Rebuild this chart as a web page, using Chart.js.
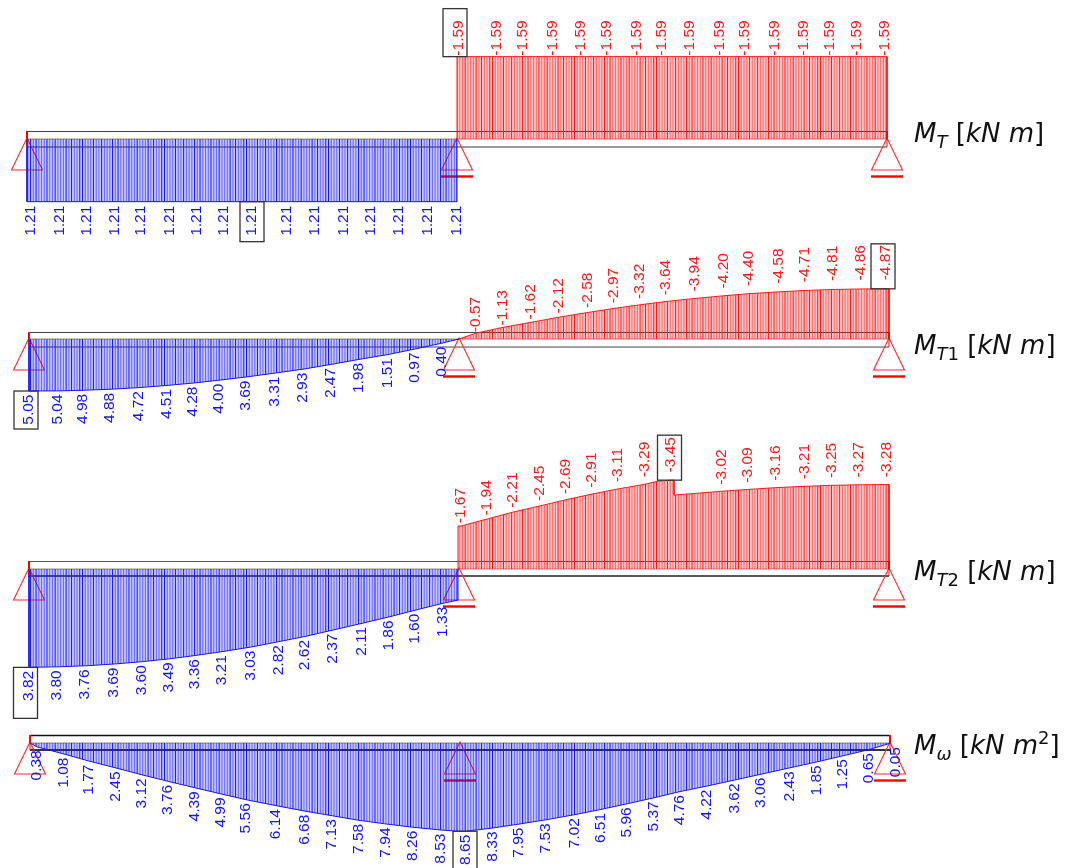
<!DOCTYPE html>
<html>
<head>
<meta charset="utf-8">
<script src="https://cdn.jsdelivr.net/npm/chart.js@4"></script>
<style>
html,body{margin:0;padding:0;background:#fff;width:1068px;height:868px;overflow:hidden}
canvas{position:absolute;left:0}
.t{position:absolute;left:914px;font:italic 26px "DejaVu Sans";color:#111;white-space:nowrap;line-height:30px}
.t span{font-style:normal}
.t sub{font-size:18px;line-height:0;vertical-align:-6px}
.t sup{font-size:18px;line-height:0;vertical-align:10px;font-style:normal}
</style>
</head>
<body>
<div id="stage"></div>
<script>
// Stations are positions along the beam (two spans of 430 units each).
const mtLeftAt   = [4,33,60,88,114,143,170,197,225,260,288,317,344,372,401,430];
const mtLeft     = [1.21,1.21,1.21,1.21,1.21,1.21,1.21,1.21,1.21,1.21,1.21,1.21,1.21,1.21,1.21,1.21];
const mtRightAt  = [432,470,496,526,554,580,610,635,663,693,718,748,777,803,830,858];
const mtRight    = [-1.59,-1.59,-1.59,-1.59,-1.59,-1.59,-1.59,-1.59,-1.59,-1.59,-1.59,-1.59,-1.59,-1.59,-1.59,-1.59];

const mt1LeftAt  = [0,29,54,81,110,138,164,190,217,246,274,302,330,359,386,413];
const mt1Left    = [5.05,5.04,4.98,4.88,4.72,4.51,4.28,4.00,3.69,3.31,2.93,2.47,1.98,1.51,0.97,0.40];
const mt1RightAt = [447,474,502,530,559,585,611,637,666,695,720,750,776,804,832,857];
const mt1Right   = [-0.57,-1.13,-1.62,-2.12,-2.58,-2.97,-3.32,-3.64,-3.94,-4.20,-4.40,-4.58,-4.71,-4.81,-4.86,-4.87];

const mt2LeftAt  = [0,28,56,85,113,140,166,193,222,250,276,304,333,360,386,414];
const mt2Left    = [3.82,3.80,3.76,3.69,3.60,3.49,3.36,3.21,3.03,2.82,2.62,2.37,2.11,1.86,1.60,1.33];
const mt2RightAt = [432,458,484,511,537,563,589,616,642,693,719,747,776,803,830,858];
const mt2Right   = [-1.67,-1.94,-2.21,-2.45,-2.69,-2.91,-3.11,-3.29,-3.45,-3.02,-3.09,-3.16,-3.21,-3.25,-3.27,-3.28];

const mwLeftAt   = [7,34,59,86,112,138,165,191,216,246,275,302,329,356,383,411,436];
const mwLeft     = [0.38,1.08,1.77,2.45,3.12,3.76,4.39,4.99,5.56,6.14,6.68,7.13,7.58,7.94,8.26,8.53,8.65];
const mwRightAt  = [463,489,516,545,571,597,624,650,677,705,731,760,787,813,839,866];
const mwRight    = [8.33,7.95,7.53,7.02,6.51,5.96,5.37,4.76,4.22,3.62,3.06,2.43,1.85,1.25,0.65,0.05];

// Estimated unlabelled break points of the diagrams: [station, value]
const mtLeftExtra   = [[0,0],[0,1.21],[430,0]];
const mtRightExtra  = [[430,0],[430,-1.59],[860,-1.59],[860,0]];
const mt1LeftExtra  = [[0,0],[430,0]];
const mt1RightExtra = [[430,0],[860,-4.87],[860,0]];
const mt2LeftExtra  = [[0,0],[429,1.21],[429,0]];
const mt2RightExtra = [[429,0],[429,-1.67],[629,-3.41],[645,-3.45],[645,-2.87],[860,-3.28],[860,0]];
const mwLeftExtra   = [[0,0],[428,8.65]];
const mwRightExtra  = [[436,8.65],[861,0]];

const supportsAt = [0,430,860];

// Layout of each panel (page geometry, not data)
const panels = [
 {top:0,  h:245,x0:27,base:139,k:51.8,beamTop:131,beamBot:147,botCol:'#9a9a9a',botW:2,topCol:'#444',topW:1.2,
  left:[mtLeftAt,mtLeft,mtLeftExtra],right:[mtRightAt,mtRight,mtRightExtra],
  gapB:4,gapR:1,facR:1,boxL:[8,40,0],boxR:[0,48,-4]},
 {top:240,h:195,x0:29,base:339,k:10.3,beamTop:332,beamBot:347,botCol:'#444',botW:1.2,topCol:'#444',topW:1.2,
  left:[mt1LeftAt,mt1Left,mt1LeftExtra],right:[mt1RightAt,mt1Right,mt1RightExtra],
  gapB:3.5,gapR:0,facR:1.17,boxL:[0,38,-3],boxR:[15,45,-3]},
 {top:430,h:292,x0:29,base:569,k:25.75,beamTop:561,beamBot:576,botCol:'#222',botW:1.5,topCol:'#555',topW:1.2,
  left:[mt2LeftAt,mt2Left,mt2LeftExtra],right:[mt2RightAt,mt2Right,mt2RightExtra],
  gapB:3.5,gapR:-2,facR:1.11,boxL:[0,51,-3.5],boxR:[8,45,-1.5]},
 {top:722,h:146,x0:30,base:743,k:10.2,beamTop:735,beamBot:750,botCol:'#333',botW:2,topCol:'#111',topW:1.6,
  left:[mwLeftAt,mwLeft,mwLeftExtra],right:[mwRightAt,mwRight,mwRightExtra],
  gapB:3.5,gapR:0,facR:1,boxL:[16,40,-1],boxR:null}
];

const strong = [0,4,7,11,13,17,20,24,26,29];
function hatch(rgb){
  const tile=document.createElement('canvas');tile.width=82;tile.height=2;
  const c=tile.getContext('2d');
  c.fillStyle='rgba('+rgb+',0.24)';c.fillRect(0,0,82,2);
  for(let i=0;i<30;i++){
    const x=i*82/30;
    c.fillStyle='rgba('+rgb+','+(strong.includes(i)?1:0.5)+')';
    c.fillRect(x,0,strong.includes(i)?1:1.1,2);
  }
  return c.createPattern(tile,'repeat');
}
// Merge labelled stations with break points. At the first station of a diagram the
// line rises from the axis; at every other repeated station it falls back towards it.
const curve=(at,val,extra,end)=>{
  const pts=at.map((x,i)=>({x,y:val[i]})).filter(p=>p.x<=end).concat(extra.map(p=>({x:p[0],y:p[1]})));
  const first=Math.min(...pts.map(p=>p.x));
  return pts.sort((a,b)=>a.x-b.x||(a.x===first?Math.abs(a.y)-Math.abs(b.y):Math.abs(b.y)-Math.abs(a.y)));
};
const RED='#ff1a1a',BLUE='#1414ff';

const overlay={
 id:'beamOverlay',
 beforeDatasetsDraw(ch,_,o){
  const p=o.p,c=ch.ctx,X=ch.scales.x,Y0=ch.scales.y.getPixelForValue(0),top=p.beamTop-p.top,bot=p.beamBot-p.top;
  const xs=X.getPixelForValue(0),xe=X.getPixelForValue(860);
  c.save();
  c.lineWidth=p.topW;c.strokeStyle=p.topCol;
  c.beginPath();c.moveTo(xs,top+.5);c.lineTo(xe,top+.5);c.stroke();
  c.lineWidth=p.botW;c.strokeStyle=p.botCol;
  c.beginPath();c.moveTo(xs,bot);c.lineTo(xe,bot);c.stroke();
  c.lineWidth=1.6;c.strokeStyle='#bdb0b0';
  c.beginPath();c.moveTo(xs,Y0);c.lineTo(xe,Y0);c.stroke();
  // supports
  supportsAt.forEach((s,i)=>{
    const x=X.getPixelForValue(s);
    c.strokeStyle='#ff2a2a';c.lineWidth=1.1;
    c.beginPath();c.moveTo(x,Y0-1);c.lineTo(x-15.5,Y0+31);c.lineTo(x+15.5,Y0+31);c.closePath();c.stroke();
    if(i>0){c.strokeStyle='#f00';c.lineWidth=2.4;c.beginPath();c.moveTo(x-16,Y0+37.5);c.lineTo(x+16,Y0+37.5);c.stroke();}
  });
  c.restore();
 },
 afterDatasetsDraw(ch,_,o){
  const p=o.p,c=ch.ctx,X=ch.scales.x,Y=ch.scales.y,Y0=Y.getPixelForValue(0),top=p.beamTop-p.top,bot=p.beamBot-p.top;
  c.save();
  // end ticks
  [0,860].forEach((s,i)=>{
    const x=X.getPixelForValue(s);
    c.strokeStyle='#f00';
    c.lineWidth=2;c.beginPath();c.moveTo(x,top);c.lineTo(x,Y0);c.stroke();
    c.lineWidth=1;c.beginPath();c.moveTo(x,Y0);c.lineTo(x,bot);c.stroke();
  });
  // value labels
  c.font='15.5px "Liberation Sans"';c.textBaseline='middle';
  const draw=(at,val)=>{
    at.forEach((s,i)=>{
      const v=val[i],neg=v<0,x=X.getPixelForValue(s);
      const y=neg?Y.getPixelForValue(v*p.facR)-p.gapR:Y.getPixelForValue(v)+p.gapB;
      c.save();c.translate(x,y);c.rotate(-Math.PI/2);
      c.fillStyle=neg?RED:BLUE;c.textAlign=neg?'left':'right';
      c.fillText(v.toFixed(2),0,0);c.restore();
    });
  };
  draw(p.left[0],p.left[1]);draw(p.right[0],p.right[1]);
  // boxes round the extreme values
  const box=(arr,spec)=>{
    if(!spec)return;
    const i=spec[0],L=spec[1],v=arr[1][i],x=X.getPixelForValue(arr[0][i])+spec[2],y=Y.getPixelForValue(v);
    c.strokeStyle='#333';c.lineWidth=1.3;
    c.strokeRect(x-12,v<0?y-L:y,24,L);
  };
  box(p.left,p.boxL);box(p.right,p.boxR);
  c.restore();
 }
};

const stage=document.getElementById('stage');
const blueFill=hatch('20,20,255'),redFill=hatch('255,20,20');
panels.forEach((p,n)=>{
  const cv=document.createElement('canvas');
  cv.style.top=p.top+'px';cv.width=1068;cv.height=p.h;cv.style.width='1068px';cv.style.height=p.h+'px';
  stage.appendChild(cv);
  const b=p.base-p.top;
  const ds=(arr)=>{
    const pts=curve(arr[0],arr[1],arr[2],861);
    const pos=arr[1][0]>0;
    return {data:pts,borderColor:pos?BLUE:RED,backgroundColor:pos?blueFill:redFill,borderWidth:1,fill:'origin',pointRadius:0,tension:0,parsing:false,clip:false};
  };
  new Chart(cv.getContext('2d'),{
    type:'line',
    data:{datasets:[ds(p.left),ds(p.right)]},
    options:{
      responsive:false,animation:false,devicePixelRatio:1,
      layout:{padding:0},
      events:[],
      plugins:{legend:{display:false},tooltip:{enabled:false},title:{display:false},beamOverlay:{p}},
      scales:{
        x:{type:'linear',display:false,min:-p.x0,max:1068-p.x0},
        y:{type:'linear',display:false,reverse:true,min:-b/p.k,max:(p.h-b)/p.k}
      }
    },
    plugins:[overlay]
  });
});
const titles=[
 ['<i>T</i>','',118],
 ['<i>T</i><span>1</span>','',330],
 ['<i>T</i><span>2</span>','',556],
 ['<i>ω</i>','2',730]
];
titles.forEach(t=>{
  const d=document.createElement('div');d.className='t';d.style.top=t[2]+'px';
  d.innerHTML='M<sub>'+t[0]+'</sub> <span>[</span>kN m'+(t[1]?'<sup>'+t[1]+'</sup>':'')+'<span>]</span>';
  stage.appendChild(d);
});
</script>
</body>
</html>
